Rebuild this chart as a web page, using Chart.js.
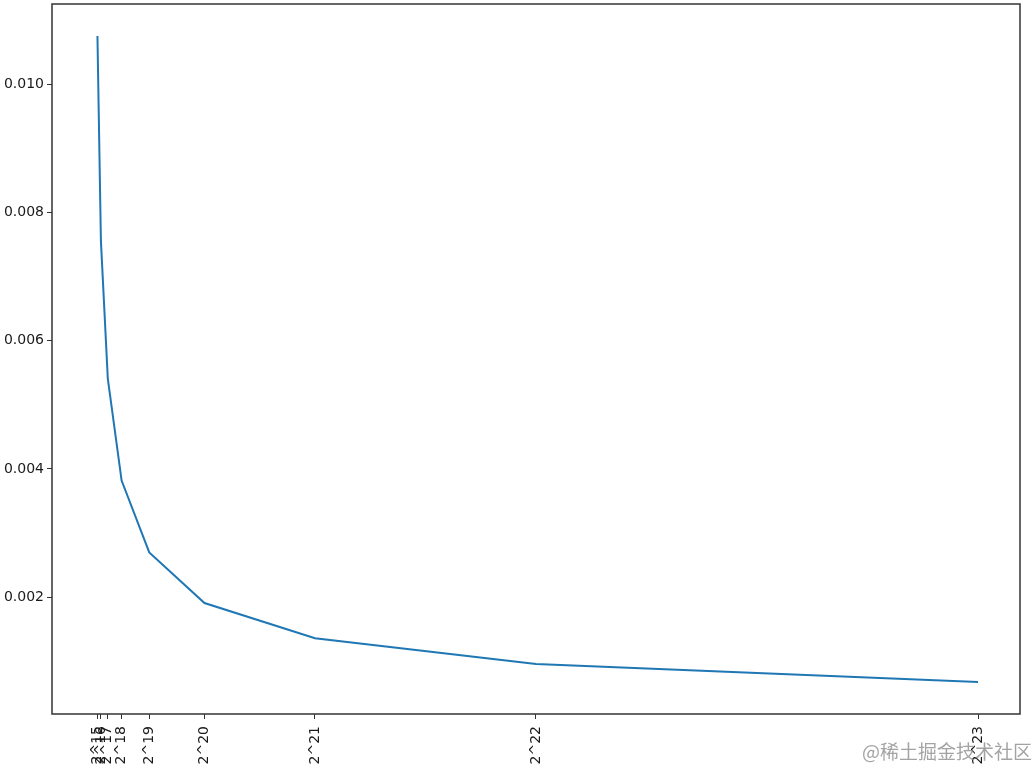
<!DOCTYPE html>
<html lang="en">
<head>
  <meta charset="UTF-8">
  <title>Time vs size</title>
  <script src="https://cdn.jsdelivr.net/npm/chart.js"></script>
  <style>
    body {
      margin: 0;
      background-color: #fff;
    }
    .wrap {
      position: relative;
      width: 1033px;
      height: 768px;
    }
    #watermark {
      position: absolute;
      left: 862px;
      top: 737px;
      font-family: "Noto Sans CJK SC", sans-serif;
      font-size: 19px;
      color: rgba(140, 140, 140, 0.8);
      white-space: nowrap;
    }
  </style>
</head>
<body>
  <div class="wrap">
    <canvas id="chart" width="1033" height="768"></canvas>
    <div id="watermark">@稀土掘金技术社区</div>
  </div>

  <script>
    const P = Math.pow(2, 20);
    const sizes = [2**15, 2**16, 2**17, 2**18, 2**19, 2**20, 2**21, 2**22, 2**23];
    const times = [0.01075, 0.00756, 0.00541, 0.00382, 0.00270, 0.00191, 0.00136, 0.00096, 0.00068];
    const xTickLabels = ['2^15', '2^16', '2^17', '2^18', '2^19', '2^20', '2^21', '2^22', '2^23'];
    const yTickValues = [0.002, 0.004, 0.006, 0.008, 0.010];

    const axisColor = '#333';
    const tickFont = { family: 'DejaVu Sans', size: 14 };

    // matplotlib style box around the plot area
    const boxPlugin = {
      id: 'box',
      afterDraw(chart) {
        const a = chart.chartArea;
        const ctx = chart.ctx;
        ctx.save();
        ctx.strokeStyle = axisColor;
        ctx.lineWidth = 1.5;
        ctx.strokeRect(a.left, a.top, a.right - a.left, a.bottom - a.top);
        ctx.restore();
      }
    };

    new Chart(document.getElementById('chart'), {
      type: 'line',
      data: {
        datasets: [{
          data: sizes.map((s, i) => ({ x: s, y: times[i] })),
          borderColor: '#1f77b4',
          borderWidth: 2,
          pointRadius: 0,
          tension: 0,
          fill: false
        }]
      },
      options: {
        responsive: false,
        animation: false,
        layout: { padding: { top: 4, right: 13, left: 0, bottom: 0 } },
        plugins: {
          legend: { display: false },
          tooltip: { enabled: false }
        },
        scales: {
          x: {
            type: 'linear',
            min: -0.38 * P,
            max: 8.38 * P,
            afterBuildTicks: axis => { axis.ticks = sizes.map(v => ({ value: v })); },
            afterFit: axis => {
              axis.height = 54;
              axis.paddingLeft = 0;
              axis.paddingRight = 0;
            },
            grid: { drawOnChartArea: false, drawTicks: true, tickLength: 5, color: axisColor, lineWidth: 1 },
            border: { display: false },
            ticks: {
              autoSkip: false,
              minRotation: 90,
              maxRotation: 90,
              padding: 7,
              color: '#1a1a1a',
              font: tickFont,
              callback: (v, i) => xTickLabels[i]
            }
          },
          y: {
            min: 0.00018,
            max: 0.01125,
            afterBuildTicks: axis => { axis.ticks = yTickValues.map(v => ({ value: v })); },
            afterFit: axis => {
              axis.width = 52;
              axis.paddingTop = 0;
              axis.paddingBottom = 0;
            },
            grid: { drawOnChartArea: false, drawTicks: true, tickLength: 5, color: axisColor, lineWidth: 1 },
            border: { display: false },
            ticks: {
              padding: 3,
              color: '#1a1a1a',
              font: tickFont,
              callback: v => v.toFixed(3)
            }
          }
        }
      },
      plugins: [boxPlugin]
    });
  </script>
</body>
</html>
